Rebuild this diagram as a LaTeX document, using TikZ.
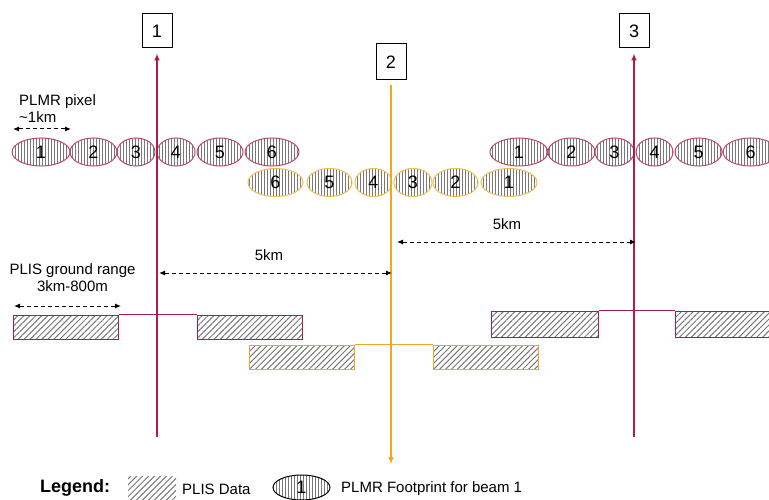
\documentclass[tikz,border=0pt]{standalone}
\usepackage{fontspec}
\setmainfont{Liberation Sans}
\usetikzlibrary{shapes.geometric, patterns.meta, arrows.meta}

\definecolor{beamred}{RGB}{172,28,78}
\definecolor{footred}{RGB}{188,72,104}
\definecolor{beamorange}{RGB}{240,168,36}
\definecolor{footorange}{RGB}{236,190,84}
\definecolor{hatchgray}{RGB}{120,120,120}

\tikzset{
    txt/.style={inner sep=0pt, font=\fontsize{15}{17}\selectfont},
    beambox/.style={draw, line width=1pt, minimum width=30pt, minimum height=34pt, font=\fontsize{18}{20}\selectfont},
    footprint/.style={ellipse, draw=#1, line width=1pt, inner sep=0pt, minimum height=28pt,
        pattern={Lines[angle=90, distance=3pt, line width=0.5pt]}, pattern color=hatchgray,
        font=\fontsize{18}{20}\selectfont},
    hatch/.style={pattern={Lines[angle=45, distance=4.2pt, line width=1pt]}, pattern color=hatchgray},
    plisdata/.style={hatch, draw=#1, line width=1pt, inner sep=0pt, minimum width=105pt, minimum height=24pt},
    dimarrow/.style={{Latex[length=6pt, width=5pt]}-{Latex[length=6pt, width=5pt]}, dash pattern=on 4pt off 3pt, line width=1pt},
    beamline/.style={draw=#1, line width=1.5pt}
}

\begin{document}
\begin{tikzpicture}[x=1pt, y=-1pt]
        \useasboundingbox (0, 0) rectangle (769, 500);

        \node[beambox] (b1) at (157, 31) {1};
        \node[beambox, minimum height=36pt] (b2) at (391, 62) {2};
        \node[beambox] (b3) at (634, 31) {3};

        \node[footprint=footred, minimum width=58pt] (l1) at (41, 152) {1};
        \node[footprint=footred, minimum width=47pt] (l2) at (93.5, 152) {2};
        \node[footprint=footred, minimum width=38pt] (l3) at (136, 152) {3};
        \node[footprint=footred, minimum width=38pt] (l4) at (176, 152) {4};
        \node[footprint=footred, minimum width=46pt] (l5) at (220, 152) {5};
        \node[footprint=footred, minimum width=54pt] (l6) at (272, 152) {6};

        \node[footprint=footorange, minimum width=55pt] (m6) at (275.5, 182.5) {6};
        \node[footprint=footorange, minimum width=45pt] (m5) at (329.5, 182.5) {5};
        \node[footprint=footorange, minimum width=37pt] (m4) at (373.5, 182.5) {4};
        \node[footprint=footorange, minimum width=38pt] (m3) at (413, 182.5) {3};
        \node[footprint=footorange, minimum width=45pt] (m2) at (455.5, 182.5) {2};
        \node[footprint=footorange, minimum width=56pt] (m1) at (509, 182.5) {1};

        \node[footprint=footred, minimum width=58pt] (r1) at (519, 152) {1};
        \node[footprint=footred, minimum width=47pt] (r2) at (571.5, 152) {2};
        \node[footprint=footred, minimum width=39pt] (r3) at (614.5, 152) {3};
        \node[footprint=footred, minimum width=37pt] (r4) at (654.5, 152) {4};
        \node[footprint=footred, minimum width=47pt] (r5) at (698.5, 152) {5};
        \node[footprint=footred, minimum width=55pt] (r6) at (750.5, 152) {6};

        \node[plisdata=beamred] (p1) at (65.5, 327) {};
        \node[plisdata=beamred] (p2) at (250, 327) {};
        \node[plisdata=beamorange] (p3) at (301.5, 357) {};
        \node[plisdata=beamorange] (p4) at (486, 357) {};
        \node[plisdata=beamred, minimum width=107pt, minimum height=26pt] (p5) at (544.5, 324) {};
        \node[plisdata=beamred, minimum width=107pt, minimum height=26pt] (p6) at (728.5, 324) {};

        \draw[beamred, line width=1pt] (p1.north east) -- (p2.north west);
        \draw[beamorange, line width=1pt] (p3.north east) -- (p4.north west);
        \draw[beamred, line width=1pt] (p5.north east) -- (p6.north west);

        \coordinate (b1foot) at (157, 437);
        \coordinate (b2foot) at (391, 464);
        \coordinate (b3foot) at (634, 437);
        \draw[beamline=beamred, -{Latex[length=7pt, width=6pt]}, shorten >=5pt] (b1foot) -- (b1);
        \draw[beamline=beamorange, line width=1.2pt, -{Latex[length=7pt, width=6pt]}, shorten <=5pt] (b2) -- (b2foot);
        \draw[beamline=beamred, -{Latex[length=7pt, width=6pt]}, shorten >=5pt] (b3foot) -- (b3);

        \node[txt, align=left, anchor=west] (pixtxt) at (19, 108.5) {PLMR pixel\\\textasciitilde1km};
        \coordinate (pixl) at (13, 129);
        \coordinate (pixr) at (71, 129);
        \draw[dimarrow] (pixl) -- (pixr);

        \node[txt, align=center] (plistxt) at (72.5, 277.5) {PLIS ground range\\3km-800m};
        \coordinate (plisl) at (14, 306);
        \coordinate (plisr) at (121, 306);
        \draw[dimarrow] (plisl) -- (plisr);

        \node[txt] (kmleft) at (269, 255) {5km};
        \coordinate (gapl1) at (159, 273);
        \coordinate (gapr1) at (392, 273);
        \draw[dimarrow] (gapl1) -- (gapr1);

        \node[txt] (kmright) at (507, 224) {5km};
        \coordinate (gapl2) at (397, 242);
        \coordinate (gapr2) at (636, 242);
        \draw[dimarrow] (gapl2) -- (gapr2);

        \node[font=\bfseries\fontsize{18}{20}\selectfont, inner sep=0pt] (legtxt) at (75, 488) {Legend:};
        \path[hatch] (128, 476) rectangle (176, 499);
        \node[txt, anchor=west] (legplis) at (182, 489) {PLIS Data};
        \node[footprint=black, minimum width=57pt, minimum height=25pt] (legfoot) at (301.5, 487.5) {1};
        \node[txt, anchor=west] (legplmr) at (341, 489) {PLMR Footprint for beam 1};
\end{tikzpicture}
\end{document}
